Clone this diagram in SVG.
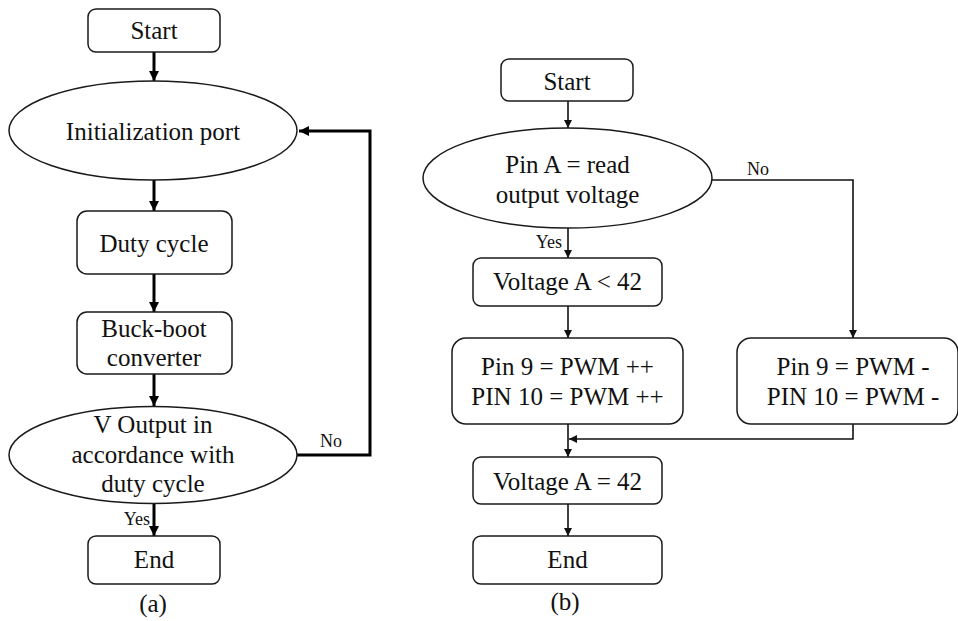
<svg xmlns="http://www.w3.org/2000/svg" width="958" height="621" viewBox="0 0 958 621">
<defs>
<style>
.box{fill:#fff;stroke:#1a1a1a;stroke-width:1.5}
.t{font-size:25px;fill:#111;text-anchor:middle}
.lbl{font-size:18px;fill:#111}
.thick{fill:none;stroke:#000;stroke-width:3}
.thin{fill:none;stroke:#111;stroke-width:1.6}
</style>
<marker id="ah" viewBox="0 0 10 10" refX="10" refY="5" markerWidth="10" markerHeight="10" markerUnits="userSpaceOnUse" orient="auto">
<path d="M0,0 L10,5 L0,10 z" fill="#000"/>
</marker>
<marker id="as" viewBox="0 0 10 10" refX="10" refY="5" markerWidth="9" markerHeight="8" markerUnits="userSpaceOnUse" orient="auto">
<path d="M0,0 L10,5 L0,10 z" fill="#111"/>
</marker>
</defs>
<rect width="958" height="621" fill="#fff"/>
<g font-family="'Liberation Serif', 'Times New Roman', 'DejaVu Serif', serif">
<g id="connectors">
<line class="thick" x1="154" y1="52" x2="154" y2="81" marker-end="url(#ah)"/>
<line class="thick" x1="154" y1="180" x2="154" y2="211" marker-end="url(#ah)"/>
<line class="thick" x1="154" y1="274" x2="154" y2="312" marker-end="url(#ah)"/>
<line class="thick" x1="154" y1="374" x2="154" y2="406" marker-end="url(#ah)"/>
<line class="thick" x1="154" y1="503" x2="154" y2="536" marker-end="url(#ah)"/>
<polyline class="thick" points="297,455 370,455 370,131 299,131" marker-end="url(#ah)"/>
<text class="lbl" x="320" y="447">No</text>
<text class="lbl" x="150" y="525" text-anchor="end">Yes</text>

<line class="thin" x1="568" y1="101" x2="568" y2="128" marker-end="url(#as)"/>
<line class="thin" x1="568" y1="228" x2="568" y2="258" marker-end="url(#as)"/>
<line class="thin" x1="568" y1="306" x2="568" y2="338" marker-end="url(#as)"/>
<line class="thin" x1="568" y1="424" x2="568" y2="457" marker-end="url(#as)"/>
<line class="thin" x1="568" y1="504" x2="568" y2="536" marker-end="url(#as)"/>
<polyline class="thin" points="712,180 853,180 853,338" marker-end="url(#as)"/>
<polyline class="thin" points="853,424 853,439 569,439" marker-end="url(#as)"/>
<text class="lbl" x="747" y="175">No</text>
<text class="lbl" x="562" y="248" text-anchor="end">Yes</text>
</g>

<g id="a-start"><rect class="box" x="88" y="9" width="132" height="43" rx="8"/><text class="t" x="154" y="39">Start</text></g>
<g id="a-init"><ellipse class="box" cx="153" cy="130.5" rx="144" ry="49.5"/><text class="t" x="153" y="140">Initialization port</text></g>
<g id="a-duty"><rect class="box" x="77" y="211" width="155" height="63" rx="10"/><text class="t" x="154" y="252">Duty cycle</text></g>
<g id="a-buck"><rect class="box" x="77" y="312" width="155" height="62" rx="10"/><text class="t" x="154" y="337">Buck-boot</text><text class="t" x="154" y="366">converter</text></g>
<g id="a-check"><ellipse class="box" cx="153" cy="455" rx="144" ry="48.5"/><text class="t" x="153" y="433">V Output in</text><text class="t" x="153" y="463">accordance with</text><text class="t" x="153" y="492">duty cycle</text></g>
<g id="a-end"><rect class="box" x="88" y="536" width="132" height="48" rx="8"/><text class="t" x="154" y="568">End</text></g>
<text class="t" x="153" y="612">(a)</text>

<g id="b-start"><rect class="box" x="501" y="59" width="132" height="42" rx="8"/><text class="t" x="567" y="90">Start</text></g>
<g id="b-read"><ellipse class="box" cx="567.5" cy="178" rx="144.5" ry="50"/><text class="t" x="567.5" y="173">Pin A = read</text><text class="t" x="567.5" y="203">output voltage</text></g>
<g id="b-lt"><rect class="box" x="473" y="258" width="189" height="48" rx="8"/><text class="t" x="567.5" y="290">Voltage A &lt; 42</text></g>
<g id="b-inc"><rect class="box" x="452" y="338" width="231" height="86" rx="14"/><text class="t" x="567.5" y="375">Pin 9 = PWM ++</text><text class="t" x="567.5" y="405">PIN 10 = PWM ++</text></g>
<g id="b-dec"><rect class="box" x="737" y="338" width="221" height="86" rx="14"/><text class="t" x="853" y="375">Pin 9 = PWM -</text><text class="t" x="853" y="405">PIN 10 = PWM -</text></g>
<g id="b-eq"><rect class="box" x="473" y="457" width="189" height="47" rx="8"/><text class="t" x="567.5" y="490">Voltage A = 42</text></g>
<g id="b-end"><rect class="box" x="473" y="536" width="189" height="48" rx="8"/><text class="t" x="567.5" y="568">End</text></g>
<text class="t" x="565" y="610">(b)</text>
</g>
</svg>
